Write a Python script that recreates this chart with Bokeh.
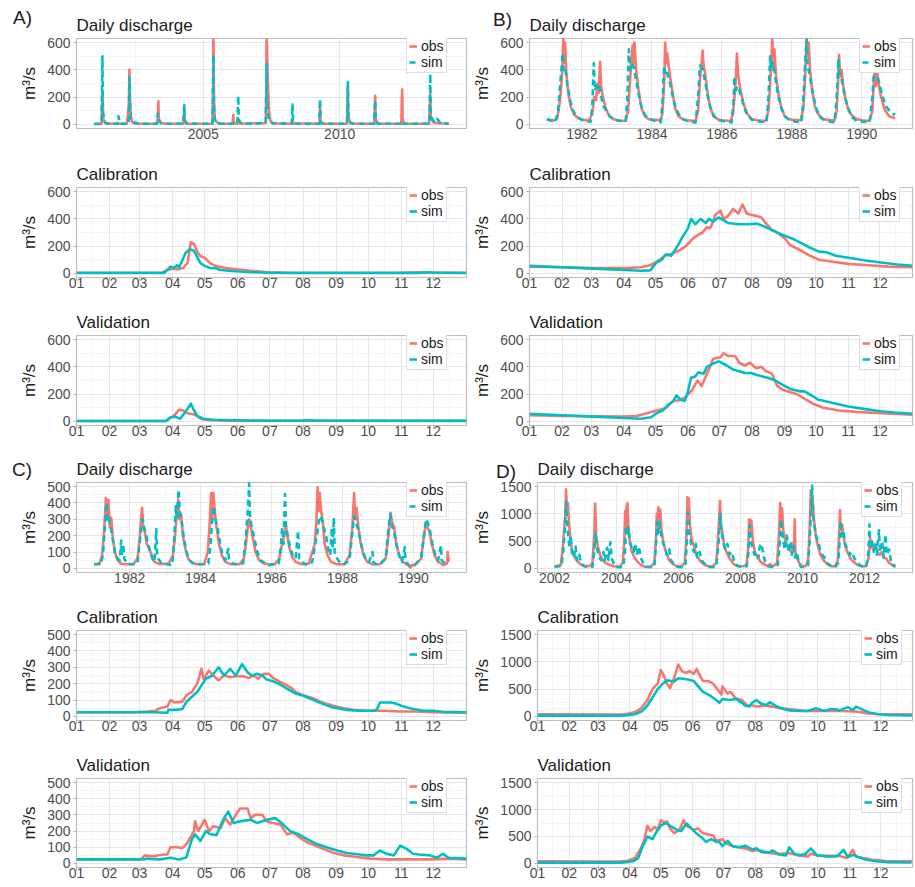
from bokeh.plotting import figure
from bokeh.layouts import column, row
from bokeh.models import Range1d, FixedTicker, Legend, LegendItem, Div
from bokeh.embed import file_html
from bokeh.resources import INLINE

OBS_COLOR = "#F8766D"
SIM_COLOR = "#00BFC4"
FONT = "Liberation Sans"

MONTH_STARTS = [0, 31, 59, 90, 120, 151, 181, 212, 243, 273, 304, 334]
MONTH_MIDS = [15, 45, 74, 105, 135, 166, 196, 227, 258, 288, 319, 349]
MONTH_LABELS = ["01", "02", "03", "04", "05", "06", "07", "08", "09", "10", "11", "12"]
PANEL_LETTERS = ["A)", "B)", "C)", "D)"]

# ---------------- Panel A ----------------
A_daily_obs = [(2001.00, 5), (2001.27, 5), (2001.30, 250), (2001.33, 40), (2001.40, 10), (2001.60, 5),
               (2002.20, 5), (2002.27, 150), (2002.29, 400), (2002.31, 200), (2002.34, 60), (2002.40, 15), (2002.55, 5),
               (2003.30, 5), (2003.34, 60), (2003.35, 170), (2003.37, 40), (2003.45, 10), (2003.60, 5),
               (2004.27, 5), (2004.30, 120), (2004.32, 30), (2004.40, 5),
               (2005.33, 5), (2005.36, 300), (2005.37, 700), (2005.39, 200), (2005.42, 40), (2005.50, 15), (2005.60, 5),
               (2006.07, 5), (2006.10, 68), (2006.12, 10), (2006.26, 5), (2006.28, 40), (2006.31, 15), (2006.40, 5),
               (2007.29, 10), (2007.31, 300), (2007.32, 700), (2007.35, 420), (2007.38, 250), (2007.41, 100), (2007.45, 30), (2007.55, 8),
               (2008.25, 5), (2008.27, 25), (2008.30, 8),
               (2009.26, 5), (2009.28, 150), (2009.30, 20), (2009.40, 5),
               (2010.27, 5), (2010.30, 275), (2010.32, 50), (2010.40, 10), (2010.50, 5),
               (2011.27, 5), (2011.30, 210), (2011.32, 40), (2011.40, 5),
               (2012.26, 5), (2012.29, 255), (2012.31, 30), (2012.38, 5),
               (2013.28, 5), (2013.32, 225), (2013.34, 60), (2013.45, 15), (2013.60, 8), (2014.00, 5)]
A_daily_sim = [(2001.00, 3), (2001.27, 3), (2001.30, 500), (2001.32, 80), (2001.40, 15), (2001.50, 5), (2001.86, 5), (2001.89, 60), (2001.93, 10), (2002.00, 5),
               (2002.27, 5), (2002.29, 345), (2002.31, 150), (2002.34, 40), (2002.40, 25), (2002.50, 10), (2002.70, 5),
               (2003.30, 5), (2003.33, 80), (2003.36, 30), (2003.45, 10), (2003.55, 5),
               (2004.27, 5), (2004.30, 140), (2004.32, 25), (2004.40, 5),
               (2005.34, 5), (2005.37, 510), (2005.39, 100), (2005.43, 20), (2005.55, 8), (2005.70, 5),
               (2006.25, 5), (2006.28, 210), (2006.30, 40), (2006.35, 15), (2006.45, 5),
               (2007.29, 10), (2007.32, 450), (2007.34, 200), (2007.37, 80), (2007.42, 25), (2007.55, 8),
               (2008.24, 5), (2008.27, 145), (2008.29, 20), (2008.35, 5),
               (2009.25, 5), (2009.28, 185), (2009.30, 20), (2009.38, 5),
               (2010.27, 5), (2010.30, 310), (2010.32, 40), (2010.40, 10), (2010.50, 5),
               (2011.27, 5), (2011.30, 175), (2011.32, 25), (2011.40, 5),
               (2012.26, 5), (2012.29, 20), (2012.32, 5),
               (2013.29, 5), (2013.32, 370), (2013.34, 80), (2013.40, 30), (2013.50, 15), (2013.58, 40), (2013.62, 30), (2013.70, 10), (2014.00, 5)]
A_cal_obs = [(0, 5), (80, 5), (85, 25), (90, 35), (95, 30), (100, 40), (104, 80), (107, 230), (110, 215), (113, 160),
             (116, 125), (120, 115), (125, 75), (130, 55), (140, 40), (150, 30), (165, 18), (180, 8), (200, 5),
             (300, 5), (320, 8), (335, 6), (365, 5)]
A_cal_sim = [(0, 3), (82, 3), (88, 50), (91, 40), (94, 60), (96, 45), (99, 95), (102, 150), (106, 178), (110, 165),
             (113, 120), (116, 75), (120, 55), (125, 40), (130, 38), (135, 25), (145, 18), (160, 10), (180, 5),
             (200, 3), (320, 3), (327, 8), (335, 5), (365, 3)]
A_val_obs = [(0, 3), (84, 3), (91, 40), (96, 85), (100, 80), (104, 60), (108, 55), (113, 40), (116, 20), (122, 10),
             (140, 5), (365, 5)]
A_val_sim = [(0, 3), (84, 3), (88, 30), (92, 35), (97, 20), (102, 70), (107, 130), (110, 80), (113, 40), (119, 20),
             (128, 12), (147, 8), (180, 5), (210, 5), (215, 8), (225, 7), (240, 5), (365, 4)]

# ---------------- Panel B ----------------
B_daily_obs = [(1981.00, 35), (1981.20, 28), (1981.30, 50), (1981.36, 150), (1981.40, 250), (1981.44, 400), (1981.47, 640), (1981.49, 450), (1981.52, 600), (1981.55, 400), (1981.60, 250), (1981.68, 130), (1981.78, 70), (1981.90, 45),
               (1982.00, 35), (1982.20, 28), (1982.30, 80), (1982.35, 200), (1982.40, 180), (1982.45, 300), (1982.48, 230), (1982.52, 460), (1982.55, 280), (1982.60, 200), (1982.68, 120), (1982.78, 60), (1982.90, 40),
               (1983.00, 30), (1983.25, 25), (1983.32, 100), (1983.37, 300), (1983.42, 500), (1983.45, 580), (1983.48, 450), (1983.50, 600), (1983.55, 400), (1983.62, 250), (1983.70, 120), (1983.80, 60), (1983.90, 40),
               (1984.00, 35), (1984.25, 30), (1984.30, 80), (1984.35, 300), (1984.38, 600), (1984.41, 450), (1984.44, 520), (1984.48, 430), (1984.52, 350), (1984.58, 250), (1984.66, 120), (1984.76, 60), (1984.90, 35),
               (1985.00, 30), (1985.25, 25), (1985.32, 100), (1985.38, 350), (1985.42, 450), (1985.45, 540), (1985.48, 420), (1985.52, 380), (1985.58, 250), (1985.66, 130), (1985.76, 60), (1985.90, 35),
               (1986.00, 30), (1986.25, 25), (1986.32, 80), (1986.36, 200), (1986.40, 350), (1986.43, 520), (1986.46, 380), (1986.50, 300), (1986.55, 230), (1986.62, 150), (1986.72, 80), (1986.85, 40),
               (1987.00, 30), (1987.25, 25), (1987.33, 100), (1987.38, 300), (1987.41, 450), (1987.44, 630), (1987.47, 400), (1987.50, 550), (1987.55, 350), (1987.62, 220), (1987.70, 120), (1987.80, 60), (1987.90, 40),
               (1988.00, 35), (1988.25, 30), (1988.33, 120), (1988.38, 350), (1988.42, 640), (1988.45, 500), (1988.48, 600), (1988.52, 400), (1988.58, 250), (1988.66, 130), (1988.76, 70), (1988.90, 40),
               (1989.00, 35), (1989.22, 28), (1989.28, 100), (1989.32, 300), (1989.35, 510), (1989.38, 350), (1989.42, 400), (1989.46, 300), (1989.52, 200), (1989.60, 120), (1989.70, 70), (1989.85, 40),
               (1990.00, 30), (1990.22, 25), (1990.30, 100), (1990.34, 300), (1990.37, 420), (1990.40, 280), (1990.44, 380), (1990.48, 300), (1990.55, 200), (1990.65, 110), (1990.78, 60), (1990.95, 45)]
B_daily_sim = [(1981.00, 40), (1981.15, 25), (1981.25, 20), (1981.32, 100), (1981.38, 300), (1981.42, 420), (1981.45, 520), (1981.48, 400), (1981.52, 420), (1981.58, 300), (1981.66, 180), (1981.75, 100), (1981.85, 60), (1981.95, 40),
               (1982.10, 25), (1982.25, 20), (1982.30, 150), (1982.34, 450), (1982.37, 250), (1982.42, 280), (1982.47, 300), (1982.52, 250), (1982.58, 170), (1982.62, 130), (1982.70, 100), (1982.80, 60), (1982.92, 35),
               (1983.10, 25), (1983.25, 20), (1983.30, 200), (1983.34, 550), (1983.38, 400), (1983.43, 450), (1983.48, 420), (1983.53, 350), (1983.60, 250), (1983.68, 150), (1983.78, 80), (1983.90, 40),
               (1984.10, 25), (1984.25, 15), (1984.30, 150), (1984.35, 430), (1984.38, 380), (1984.42, 400), (1984.46, 350), (1984.52, 300), (1984.60, 200), (1984.70, 110), (1984.80, 60), (1984.92, 35),
               (1985.10, 20), (1985.25, 15), (1985.32, 200), (1985.37, 430), (1985.42, 420), (1985.47, 380), (1985.53, 300), (1985.60, 200), (1985.68, 120), (1985.78, 60), (1985.92, 30),
               (1986.10, 20), (1986.28, 15), (1986.33, 150), (1986.36, 350), (1986.40, 250), (1986.45, 280), (1986.50, 250), (1986.56, 200), (1986.63, 130), (1986.72, 70), (1986.85, 35),
               (1987.10, 20), (1987.28, 15), (1987.33, 200), (1987.38, 500), (1987.41, 400), (1987.45, 450), (1987.50, 400), (1987.55, 300), (1987.62, 200), (1987.70, 120), (1987.80, 60), (1987.92, 35),
               (1988.10, 20), (1988.28, 15), (1988.33, 200), (1988.38, 450), (1988.42, 620), (1988.45, 420), (1988.50, 380), (1988.56, 280), (1988.64, 180), (1988.72, 100), (1988.82, 50), (1988.94, 30),
               (1989.10, 20), (1989.22, 15), (1989.28, 200), (1989.33, 480), (1989.37, 350), (1989.42, 330), (1989.48, 250), (1989.55, 170), (1989.63, 100), (1989.73, 50), (1989.85, 25),
               (1990.05, 20), (1990.22, 15), (1990.30, 200), (1990.35, 400), (1990.40, 380), (1990.45, 350), (1990.52, 280), (1990.60, 200), (1990.70, 130), (1990.82, 90), (1990.95, 70)]
B_cal_obs = [(0, 50), (31, 45), (61, 40), (91, 40), (106, 45), (115, 60), (120, 80), (124, 100), (129, 130), (134, 140),
             (143, 170), (149, 200), (155, 250), (160, 280), (165, 300), (169, 340), (172, 330), (175, 380), (177, 430),
             (182, 460), (185, 400), (189, 420), (194, 473), (199, 440), (203, 505), (207, 440), (211, 430), (217, 420),
             (221, 410), (225, 370), (231, 320), (236, 300), (244, 250), (248, 210), (258, 170), (267, 130), (276, 100),
             (289, 85), (304, 70), (323, 60), (342, 50), (365, 45)]
B_cal_sim = [(0, 55), (31, 45), (61, 35), (91, 25), (106, 20), (115, 22), (121, 80), (126, 100), (130, 140), (135, 130),
             (141, 200), (146, 270), (151, 330), (154, 400), (158, 360), (163, 400), (168, 370), (171, 400), (175, 380),
             (180, 410), (185, 390), (189, 370), (199, 360), (208, 360), (217, 365), (225, 340), (233, 310), (242, 280),
             (252, 250), (261, 215), (267, 190), (276, 160), (283, 155), (292, 130), (304, 115), (320, 95), (335, 80),
             (351, 65), (365, 55)]
B_val_obs = [(0, 45), (31, 40), (62, 38), (90, 35), (102, 40), (112, 60), (121, 80), (127, 90), (130, 100), (137, 150),
             (143, 155), (149, 180), (155, 230), (160, 300), (164, 260), (168, 330), (172, 400), (175, 460), (182, 470),
             (185, 500), (189, 480), (196, 480), (200, 430), (205, 410), (210, 430), (216, 390), (221, 400), (225, 370),
             (231, 350), (236, 260), (242, 230), (248, 215), (255, 200), (261, 170), (270, 130), (280, 100), (295, 80),
             (311, 70), (335, 60), (365, 50)]
B_val_sim = [(0, 55), (31, 45), (62, 35), (90, 25), (106, 20), (116, 30), (121, 60), (127, 80), (132, 120), (137, 150),
             (140, 190), (144, 160), (148, 150), (151, 220), (154, 320), (158, 330), (161, 360), (166, 350), (169, 400),
             (174, 420), (180, 440), (183, 430), (188, 410), (194, 380), (199, 370), (205, 355), (211, 355), (217, 340),
             (227, 320), (234, 300), (241, 270), (248, 240), (258, 220), (262, 220), (269, 190), (275, 160), (281, 150),
             (292, 130), (304, 110), (320, 90), (335, 75), (348, 65), (365, 55)]

# ---------------- Panel C ----------------
C_daily_obs = [(1981.00, 25), (1981.15, 30), (1981.22, 80), (1981.27, 200), (1981.31, 350), (1981.33, 430), (1981.36, 300), (1981.40, 420), (1981.44, 250), (1981.48, 310), (1981.52, 200), (1981.58, 100), (1981.66, 50), (1981.75, 30), (1981.90, 25),
               (1982.10, 25), (1982.22, 60), (1982.28, 180), (1982.32, 300), (1982.35, 370), (1982.38, 250), (1982.43, 220), (1982.48, 150), (1982.55, 120), (1982.62, 80), (1982.70, 40), (1982.85, 25),
               (1983.10, 30), (1983.22, 80), (1983.28, 200), (1983.33, 350), (1983.37, 420), (1983.40, 300), (1983.45, 330), (1983.50, 200), (1983.57, 120), (1983.65, 60), (1983.75, 35), (1983.90, 25),
               (1984.10, 25), (1984.20, 100), (1984.25, 250), (1984.30, 460), (1984.33, 300), (1984.36, 460), (1984.40, 350), (1984.45, 250), (1984.52, 150), (1984.60, 80), (1984.70, 40), (1984.85, 25),
               (1985.10, 25), (1985.22, 60), (1985.28, 150), (1985.33, 250), (1985.37, 300), (1985.42, 250), (1985.48, 180), (1985.55, 100), (1985.65, 50), (1985.78, 30), (1985.95, 25),
               (1986.10, 25), (1986.22, 60), (1986.30, 150), (1986.36, 200), (1986.40, 270), (1986.45, 200), (1986.50, 130), (1986.58, 70), (1986.68, 40), (1986.85, 25),
               (1987.05, 30), (1987.15, 100), (1987.22, 150), (1987.27, 300), (1987.30, 495), (1987.33, 350), (1987.36, 460), (1987.40, 350), (1987.45, 280), (1987.50, 150), (1987.58, 80), (1987.68, 40), (1987.85, 25),
               (1988.05, 25), (1988.20, 80), (1988.28, 250), (1988.33, 460), (1988.36, 300), (1988.40, 370), (1988.45, 250), (1988.52, 150), (1988.60, 80), (1988.70, 40), (1988.85, 25),
               (1989.05, 25), (1989.22, 60), (1989.30, 200), (1989.36, 340), (1989.40, 280), (1989.46, 250), (1989.52, 150), (1989.60, 80), (1989.70, 40), (1989.85, 20), (1989.92, 5), (1989.96, 20),
               (1990.05, 20), (1990.22, 60), (1990.30, 200), (1990.36, 280), (1990.40, 250), (1990.45, 230), (1990.52, 150), (1990.60, 80), (1990.70, 40), (1990.85, 20), (1990.95, 30), (1990.97, 100), (1991.00, 40)]
C_daily_sim = [(1981.00, 25), (1981.20, 25), (1981.25, 100), (1981.30, 250), (1981.35, 400), (1981.38, 280), (1981.42, 300), (1981.46, 260), (1981.52, 180), (1981.58, 100), (1981.65, 60), (1981.72, 50), (1981.76, 170), (1981.78, 80), (1981.82, 140), (1981.85, 60), (1981.92, 30),
               (1982.05, 25), (1982.22, 30), (1982.28, 150), (1982.33, 250), (1982.37, 300), (1982.41, 250), (1982.47, 200), (1982.52, 150), (1982.58, 100), (1982.64, 60), (1982.70, 40), (1982.75, 240), (1982.77, 100), (1982.80, 60), (1982.90, 30),
               (1983.05, 25), (1983.20, 20), (1983.26, 200), (1983.30, 380), (1983.33, 300), (1983.38, 480), (1983.41, 350), (1983.46, 300), (1983.52, 200), (1983.60, 100), (1983.68, 50), (1983.80, 30),
               (1984.05, 25), (1984.22, 30), (1984.28, 150), (1984.33, 300), (1984.37, 380), (1984.42, 300), (1984.48, 250), (1984.55, 150), (1984.62, 80), (1984.70, 50), (1984.78, 120), (1984.80, 60), (1984.90, 30),
               (1985.05, 25), (1985.20, 30), (1985.28, 200), (1985.33, 350), (1985.37, 520), (1985.40, 300), (1985.45, 250), (1985.52, 180), (1985.60, 100), (1985.68, 50), (1985.80, 35), (1985.92, 20),
               (1986.05, 25), (1986.20, 30), (1986.26, 120), (1986.30, 250), (1986.34, 150), (1986.38, 455), (1986.41, 250), (1986.46, 200), (1986.52, 130), (1986.60, 80), (1986.68, 60), (1986.75, 230), (1986.78, 60), (1986.85, 40), (1986.95, 25),
               (1987.05, 20), (1987.15, 40), (1987.22, 130), (1987.28, 200), (1987.33, 280), (1987.37, 320), (1987.42, 300), (1987.47, 250), (1987.54, 200), (1987.60, 120), (1987.66, 80), (1987.70, 250), (1987.72, 120), (1987.76, 310), (1987.78, 100), (1987.85, 60), (1987.95, 30),
               (1988.05, 25), (1988.20, 50), (1988.27, 200), (1988.33, 320), (1988.38, 280), (1988.43, 250), (1988.50, 180), (1988.58, 100), (1988.66, 60), (1988.75, 40), (1988.85, 100), (1988.87, 40), (1988.95, 25),
               (1989.05, 25), (1989.22, 60), (1989.30, 250), (1989.35, 330), (1989.40, 260), (1989.46, 220), (1989.52, 150), (1989.60, 80), (1989.68, 40), (1989.76, 130), (1989.78, 40), (1989.88, 20),
               (1990.05, 25), (1990.22, 60), (1990.30, 200), (1990.36, 300), (1990.41, 280), (1990.47, 230), (1990.54, 150), (1990.62, 80), (1990.70, 50), (1990.78, 140), (1990.80, 50), (1990.90, 30), (1991.00, 40)]
C_cal_obs = [(0, 25), (54, 25), (66, 30), (74, 35), (78, 50), (85, 60), (88, 100), (92, 85), (99, 90), (103, 130),
             (108, 150), (113, 200), (117, 290), (119, 230), (124, 280), (128, 250), (133, 220), (138, 250), (144, 240),
             (150, 245), (156, 245), (161, 235), (166, 250), (170, 230), (175, 260), (180, 260), (184, 235), (191, 210),
             (197, 190), (202, 170), (205, 150), (212, 130), (222, 110), (228, 90), (240, 65), (250, 50), (259, 40),
             (272, 35), (287, 35), (303, 30), (318, 30), (334, 25), (365, 22)]
C_cal_sim = [(0, 25), (72, 25), (85, 22), (86, 40), (94, 40), (99, 45), (103, 90), (108, 120), (113, 150), (121, 230),
             (127, 250), (133, 300), (138, 250), (144, 290), (149, 250), (155, 320), (160, 270), (164, 250), (169, 260),
             (174, 250), (178, 225), (184, 215), (189, 200), (197, 170), (205, 140), (213, 125), (222, 100), (231, 75),
             (240, 55), (253, 40), (265, 35), (278, 35), (281, 40), (284, 85), (294, 85), (298, 80), (306, 60), (315, 45),
             (325, 35), (334, 35), (343, 28), (365, 25)]
C_val_obs = [(0, 25), (60, 25), (64, 50), (72, 45), (82, 55), (85, 55), (88, 100), (94, 100), (99, 95), (103, 120),
             (110, 200), (111, 260), (114, 200), (120, 270), (124, 200), (128, 230), (135, 220), (139, 280), (144, 240),
             (149, 300), (153, 340), (160, 340), (163, 280), (167, 300), (174, 300), (178, 260), (184, 250), (191, 240),
             (197, 180), (203, 190), (209, 160), (216, 130), (223, 110), (231, 90), (241, 65), (250, 50), (262, 40),
             (275, 30), (290, 25), (309, 25), (334, 25), (348, 30), (365, 25)]
C_val_sim = [(0, 25), (63, 25), (66, 30), (78, 25), (88, 35), (96, 25), (102, 35), (103, 40), (108, 150), (111, 180),
             (116, 140), (121, 200), (125, 180), (131, 175), (138, 280), (142, 320), (147, 250), (153, 260), (163, 270),
             (169, 250), (178, 270), (186, 280), (192, 250), (200, 200), (208, 180), (216, 150), (225, 120), (234, 100),
             (244, 80), (253, 65), (265, 55), (272, 50), (278, 50), (284, 80), (290, 60), (297, 50), (303, 110), (309, 90),
             (315, 60), (321, 55), (331, 50), (337, 35), (343, 60), (348, 35), (365, 30)]

# ---------------- Panel D ----------------
D_daily_obs = [(2002.00, 40), (2002.20, 60), (2002.27, 400), (2002.32, 800), (2002.35, 1000), (2002.37, 1450), (2002.40, 1100), (2002.43, 1200), (2002.47, 800), (2002.52, 500), (2002.58, 300), (2002.66, 200), (2002.75, 120), (2002.85, 70), (2002.95, 50),
               (2003.10, 40), (2003.22, 80), (2003.28, 600), (2003.31, 1190), (2003.34, 600), (2003.40, 400), (2003.47, 250), (2003.55, 150), (2003.65, 100), (2003.75, 70), (2003.90, 40),
               (2004.10, 30), (2004.20, 100), (2004.25, 500), (2004.28, 1050), (2004.30, 700), (2004.32, 1100), (2004.35, 1200), (2004.38, 800), (2004.43, 500), (2004.50, 300), (2004.58, 200), (2004.68, 120), (2004.80, 60), (2004.92, 30),
               (2005.10, 30), (2005.22, 100), (2005.27, 500), (2005.30, 1000), (2005.33, 750), (2005.35, 1120), (2005.38, 900), (2005.41, 1080), (2005.45, 700), (2005.52, 450), (2005.60, 300), (2005.70, 150), (2005.82, 80), (2005.95, 40),
               (2006.10, 40), (2006.20, 100), (2006.25, 500), (2006.29, 1310), (2006.31, 900), (2006.33, 1280), (2006.37, 800), (2006.42, 550), (2006.50, 400), (2006.58, 250), (2006.68, 150), (2006.80, 80), (2006.95, 40),
               (2007.10, 40), (2007.22, 100), (2007.28, 600), (2007.31, 900), (2007.34, 1240), (2007.37, 800), (2007.42, 650), (2007.48, 400), (2007.55, 300), (2007.65, 180), (2007.78, 80), (2007.92, 40),
               (2008.10, 40), (2008.20, 80), (2008.25, 400), (2008.28, 900), (2008.31, 700), (2008.35, 880), (2008.40, 500), (2008.47, 300), (2008.55, 200), (2008.65, 120), (2008.78, 70), (2008.90, 40), (2008.95, 80),
               (2009.05, 40), (2009.18, 100), (2009.24, 600), (2009.28, 1200), (2009.31, 900), (2009.34, 1100), (2009.38, 700), (2009.45, 500), (2009.55, 350), (2009.65, 300), (2009.73, 500), (2009.75, 900), (2009.77, 300), (2009.85, 150), (2009.95, 50),
               (2010.10, 40), (2010.18, 150), (2010.23, 700), (2010.27, 1430), (2010.30, 1000), (2010.33, 1250), (2010.37, 900), (2010.43, 600), (2010.50, 400), (2010.58, 250), (2010.68, 150), (2010.80, 80), (2010.95, 40),
               (2011.05, 40), (2011.14, 150), (2011.18, 600), (2011.21, 1070), (2011.24, 700), (2011.28, 800), (2011.32, 600), (2011.38, 400), (2011.45, 300), (2011.55, 180), (2011.65, 120), (2011.78, 60), (2011.92, 40),
               (2012.05, 40), (2012.14, 200), (2012.18, 550), (2012.22, 400), (2012.28, 350), (2012.35, 450), (2012.42, 300), (2012.50, 250), (2012.56, 300), (2012.62, 200), (2012.70, 180), (2012.80, 100), (2012.90, 60), (2013.00, 60)]
D_daily_sim = [(2002.00, 30), (2002.22, 40), (2002.28, 300), (2002.33, 700), (2002.37, 1220), (2002.40, 900), (2002.44, 600), (2002.48, 400), (2002.52, 600), (2002.56, 300), (2002.62, 200), (2002.68, 400), (2002.72, 150), (2002.80, 250), (2002.85, 100), (2002.95, 40),
               (2003.10, 20), (2003.22, 30), (2003.28, 300), (2003.32, 650), (2003.36, 400), (2003.42, 250), (2003.50, 150), (2003.58, 300), (2003.62, 150), (2003.70, 380), (2003.74, 150), (2003.80, 480), (2003.84, 200), (2003.90, 100), (2003.97, 30),
               (2004.10, 20), (2004.22, 30), (2004.27, 300), (2004.31, 770), (2004.35, 600), (2004.38, 750), (2004.42, 500), (2004.48, 400), (2004.55, 300), (2004.60, 450), (2004.65, 250), (2004.72, 400), (2004.78, 200), (2004.86, 100), (2004.95, 30),
               (2005.10, 20), (2005.22, 30), (2005.27, 400), (2005.31, 850), (2005.34, 600), (2005.38, 850), (2005.42, 700), (2005.48, 500), (2005.55, 400), (2005.62, 250), (2005.70, 350), (2005.76, 150), (2005.85, 80), (2005.95, 30),
               (2006.10, 20), (2006.22, 40), (2006.26, 400), (2006.30, 1030), (2006.33, 700), (2006.37, 600), (2006.42, 400), (2006.50, 300), (2006.56, 450), (2006.60, 200), (2006.68, 300), (2006.75, 150), (2006.85, 80), (2006.95, 30),
               (2007.10, 20), (2007.22, 40), (2007.28, 400), (2007.32, 700), (2007.35, 1000), (2007.38, 700), (2007.44, 500), (2007.50, 350), (2007.58, 450), (2007.64, 250), (2007.72, 300), (2007.80, 120), (2007.90, 50),
               (2008.10, 20), (2008.20, 40), (2008.26, 300), (2008.30, 800), (2008.33, 500), (2008.38, 400), (2008.45, 250), (2008.52, 300), (2008.58, 200), (2008.62, 400), (2008.68, 450), (2008.74, 250), (2008.80, 100), (2008.90, 40),
               (2009.05, 20), (2009.20, 60), (2009.26, 400), (2009.30, 900), (2009.34, 700), (2009.38, 500), (2009.43, 350), (2009.50, 600), (2009.55, 300), (2009.62, 500), (2009.66, 250), (2009.72, 400), (2009.76, 200), (2009.82, 300), (2009.88, 100), (2009.95, 30),
               (2010.08, 20), (2010.18, 60), (2010.24, 600), (2010.28, 1100), (2010.31, 1520), (2010.34, 1000), (2010.38, 800), (2010.44, 600), (2010.50, 500), (2010.57, 350), (2010.64, 250), (2010.72, 200), (2010.80, 100), (2010.92, 40),
               (2011.05, 20), (2011.15, 100), (2011.20, 500), (2011.24, 870), (2011.28, 600), (2011.32, 700), (2011.38, 450), (2011.45, 350), (2011.52, 250), (2011.60, 300), (2011.66, 200), (2011.75, 120), (2011.85, 60), (2011.95, 30),
               (2012.05, 20), (2012.13, 300), (2012.16, 810), (2012.19, 400), (2012.24, 500), (2012.30, 300), (2012.35, 450), (2012.40, 250), (2012.47, 700), (2012.50, 300), (2012.57, 500), (2012.62, 200), (2012.68, 620), (2012.72, 250), (2012.80, 350), (2012.86, 100), (2012.95, 40), (2013.00, 30)]
D_cal_obs = [(0, 40), (82, 35), (88, 50), (95, 80), (101, 150), (107, 300), (112, 500), (117, 600), (120, 850), (123, 750),
             (126, 600), (129, 520), (133, 700), (137, 950), (141, 820), (145, 800), (148, 830), (152, 780), (155, 870),
             (158, 750), (161, 650), (166, 650), (171, 600), (175, 500), (179, 400), (180, 550), (185, 420), (188, 450),
             (193, 330), (199, 300), (204, 200), (209, 200), (215, 180), (221, 200), (228, 180), (236, 150), (247, 130),
             (262, 100), (278, 100), (294, 100), (310, 90), (320, 60), (329, 45), (342, 40), (365, 40)]
D_cal_sim = [(0, 15), (82, 15), (95, 40), (102, 100), (107, 200), (112, 350), (117, 500), (122, 600), (126, 660), (133, 640),
             (137, 700), (145, 680), (152, 650), (156, 560), (161, 450), (168, 380), (174, 300), (177, 250), (180, 320),
             (187, 300), (193, 320), (199, 250), (202, 200), (206, 180), (209, 250), (213, 300), (218, 230), (223, 210),
             (226, 260), (233, 180), (239, 140), (245, 110), (256, 100), (263, 100), (271, 150), (279, 100), (285, 130),
             (291, 130), (294, 110), (302, 170), (307, 120), (310, 180), (317, 120), (323, 70), (332, 40), (342, 25),
             (365, 18)]
D_val_obs = [(0, 40), (79, 35), (88, 50), (95, 100), (101, 300), (104, 450), (107, 700), (110, 600), (114, 680), (117, 620),
             (120, 800), (123, 760), (126, 780), (129, 650), (133, 560), (136, 600), (139, 650), (142, 800), (145, 700),
             (152, 620), (156, 650), (161, 560), (171, 520), (174, 420), (180, 450), (183, 380), (190, 320), (196, 300),
             (202, 280), (209, 230), (215, 250), (225, 200), (234, 170), (244, 200), (253, 150), (263, 130), (266, 180),
             (272, 150), (282, 140), (294, 140), (301, 100), (307, 250), (310, 130), (317, 100), (326, 70), (339, 45),
             (365, 40)]
D_val_sim = [(0, 15), (82, 15), (93, 40), (98, 100), (102, 300), (107, 500), (112, 450), (115, 560), (120, 700), (125, 750),
             (131, 680), (136, 620), (140, 600), (145, 740), (150, 650), (155, 550), (160, 480), (164, 400), (169, 450),
             (174, 400), (177, 400), (180, 320), (185, 420), (190, 320), (196, 300), (202, 330), (209, 260), (213, 280),
             (218, 210), (225, 200), (229, 240), (236, 160), (242, 150), (245, 300), (250, 180), (256, 150), (261, 180),
             (266, 280), (272, 150), (282, 130), (291, 130), (298, 250), (302, 120), (307, 160), (312, 120), (320, 70),
             (329, 40), (342, 25), (364, 18)]

# ---------------- axis settings ----------------
Y_AB = dict(ticks=[0, 200, 400, 600], minor=[100, 300, 500], top=600)
Y_C = dict(ticks=[0, 100, 200, 300, 400, 500], minor=[50, 150, 250, 350, 450], top=500)
Y_D = dict(ticks=[0, 500, 1000, 1500], minor=[250, 750, 1250], top=1500)
X_A = dict(ticks=[2005, 2010], minor=[2002.5, 2007.5, 2012.5])
X_BC = dict(ticks=[1982, 1984, 1986, 1988, 1990], minor=[1981, 1983, 1985, 1987, 1989, 1991])
X_D = dict(ticks=[2002, 2004, 2006, 2008, 2010, 2012], minor=[2003, 2005, 2007, 2009, 2011, 2013])


def make_fig(w, h, bl, br, bt, bb, title, obs, sim, ycfg, xcfg=None, daily=False):
    xs_o = [a for a, _ in obs]
    ys_o = [b for _, b in obs]
    xs_s = [a for a, _ in sim]
    ys_s = [b for _, b in sim]
    if daily:
        lo = min(xs_o + xs_s)
        hi = max(xs_o + xs_s)
        pad = 0.05 * (hi - lo)
        xr = Range1d(lo - pad, hi + pad)
    else:
        xr = Range1d(0, 365)
    top = ycfg["top"]
    yr = Range1d(-0.05 * top, 1.05 * top)
    p = figure(width=w, height=h, x_range=xr, y_range=yr, output_backend="svg",
               toolbar_location=None, min_border_left=bl, min_border_right=br,
               min_border_top=bt, min_border_bottom=bb, title=title)
    p.background_fill_color = "white"
    p.border_fill_color = "white"
    p.outline_line_color = "#BDBDBD"
    p.outline_line_width = 1.2

    p.title.text_font = FONT
    p.title.text_font_size = "17px"
    p.title.text_font_style = "normal"
    p.title.text_color = "#1A1A1A"
    p.title.standoff = 7
    p.title.align = "left"

    if daily:
        p.xaxis.ticker = FixedTicker(ticks=xcfg["ticks"], minor_ticks=xcfg["minor"])
    else:
        p.xaxis.ticker = FixedTicker(ticks=MONTH_STARTS, minor_ticks=MONTH_MIDS)
        p.xaxis.major_label_overrides = {d: lab for d, lab in zip(MONTH_STARTS, MONTH_LABELS)}
    p.yaxis.ticker = FixedTicker(ticks=ycfg["ticks"], minor_ticks=ycfg["minor"])

    for ax in (p.xaxis[0], p.yaxis[0]):
        ax.axis_line_color = None
        ax.major_tick_line_color = "#B3B3B3"
        ax.major_tick_out = 3
        ax.major_tick_in = 0
        ax.minor_tick_line_color = None
        ax.major_label_text_font = FONT
        ax.major_label_text_font_size = "14px"
        ax.major_label_text_color = "#4D4D4D"
        ax.major_label_standoff = 2
    p.xaxis.major_label_standoff = -4
    p.yaxis.axis_label = "m³/s"
    p.yaxis.axis_label_text_font = FONT
    p.yaxis.axis_label_text_font_size = "17px"
    p.yaxis.axis_label_text_font_style = "normal"
    p.yaxis.axis_label_text_color = "#1A1A1A"
    p.yaxis.axis_label_standoff = 5

    for g in (p.xgrid[0], p.ygrid[0]):
        g.grid_line_color = "#E6E6E6"
        g.grid_line_width = 1
        g.minor_grid_line_color = "#F2F2F2"
        g.minor_grid_line_width = 0.8

    r_o = p.line(xs_o, ys_o, line_color=OBS_COLOR, line_width=2.6, line_join="round")
    r_s = p.line(xs_s, ys_s, line_color=SIM_COLOR, line_width=2.6, line_join="round",
                 line_dash="6 4" if daily else "solid")

    fw = w - bl - br
    fh = h - bt - bb
    leg = Legend(items=[LegendItem(label="obs", renderers=[r_o]), LegendItem(label="sim", renderers=[r_s])],
                 location=(fw - 18 - 42, fh - 35))
    leg.label_text_font = FONT
    leg.label_text_font_size = "14px"
    leg.label_text_color = "#1A1A1A"
    leg.glyph_width = 8
    leg.glyph_height = 14
    leg.label_height = 14
    leg.label_standoff = 4
    leg.spacing = 0
    leg.padding = 2
    leg.margin = 0
    leg.border_line_color = "#BDBDBD"
    leg.border_line_width = 1.2
    leg.background_fill_color = "white"
    leg.background_fill_alpha = 1
    p.add_layout(leg)
    return p


WA, WB = 470, 445
BLA, BRA = 76, 4
BLB, BRB = 52, 3
BLD = 58

a1 = make_fig(WA, 157, BLA, BRA, 38, 29, "Daily discharge", A_daily_obs, A_daily_sim, Y_AB, X_A, True)
b1 = make_fig(WB, 157, BLB, BRB, 38, 29, "Daily discharge", B_daily_obs, B_daily_sim, Y_AB, X_BC, True)
a2 = make_fig(WA, 148, BLA, BRA, 30, 28, "Calibration", A_cal_obs, A_cal_sim, Y_AB)
b2 = make_fig(WB, 148, BLB, BRB, 30, 28, "Calibration", B_cal_obs, B_cal_sim, Y_AB)
a3 = make_fig(WA, 148, BLA, BRA, 30, 28, "Validation", A_val_obs, A_val_sim, Y_AB)
b3 = make_fig(WB, 148, BLB, BRB, 30, 28, "Validation", B_val_obs, B_val_sim, Y_AB)
c1 = make_fig(WA, 147, BLA, BRA, 29, 28, "Daily discharge", C_daily_obs, C_daily_sim, Y_C, X_BC, True)
d1 = make_fig(WB, 147, BLD, BRB, 29, 28, "Daily discharge", D_daily_obs, D_daily_sim, Y_D, X_D, True)
c2 = make_fig(WA, 148, BLA, BRA, 30, 28, "Calibration", C_cal_obs, C_cal_sim, Y_C)
d2 = make_fig(WB, 148, BLD, BRB, 30, 28, "Calibration", D_cal_obs, D_cal_sim, Y_D)
c3 = make_fig(WA, 139, BLA, BRA, 30, 20, "Validation", C_val_obs, C_val_sim, Y_C)
d3 = make_fig(WB, 139, BLD, BRB, 30, 20, "Validation", D_val_obs, D_val_sim, Y_D)

# panel letters drawn as an overlay in the top-left corner of each panel block
letter_pos = [(8, 3), (488, 5), (7, 455), (491, 457)]
letters_html = "".join(
    '<div style="position:absolute;left:%dpx;top:%dpx;">%s</div>' % (lx, ly, txt)
    for txt, (lx, ly) in zip(PANEL_LETTERS, letter_pos)
)
letters = Div(text=letters_html, width=1, height=1,
              styles={"position": "absolute", "left": "0px", "top": "0px", "z-index": "10",
                      "font-family": "'Liberation Sans'", "font-size": "19px", "line-height": "1",
                      "color": "#1A1A1A", "pointer-events": "none", "overflow": "visible"})

layout = column(letters, row(a1, b1), row(a2, b2), row(a3, b3), row(c1, d1), row(c2, d2), row(c3, d3))

with open("out.html", "w") as f:
    f.write(file_html(layout, INLINE))
